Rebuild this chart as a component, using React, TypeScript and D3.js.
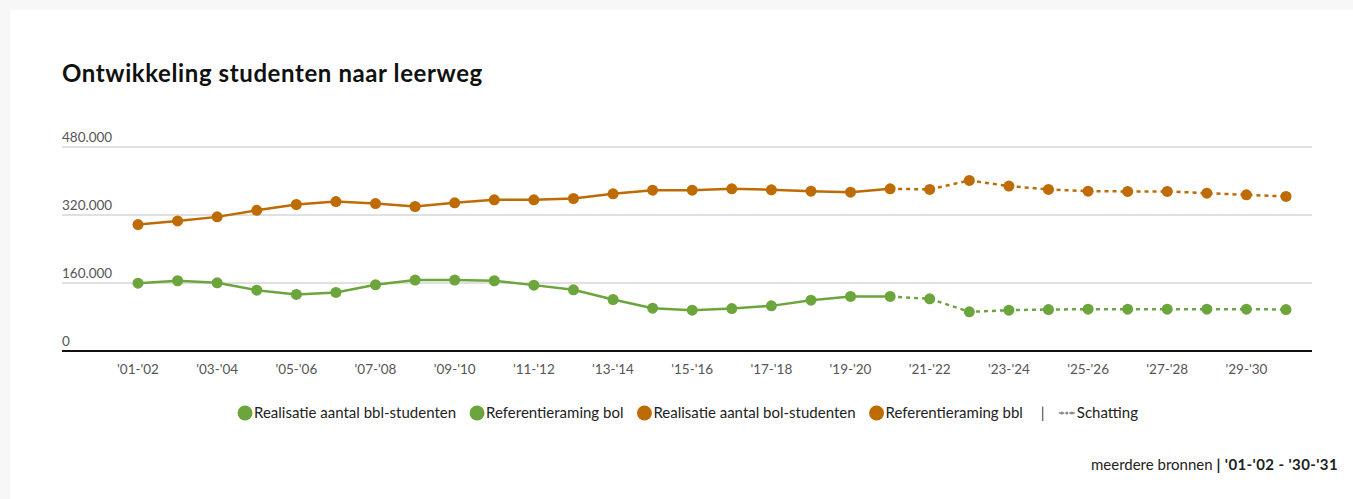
import * as d3 from "d3"
import { useEffect, useRef } from "react"

// school years '01-'02 .. '30-'31
const years = d3.range(1, 31).map(
  (y) => `'${String(y).padStart(2, "0")}-'${String(y + 1).padStart(2, "0")}`
)

// thousands of students
const bolRealisatie = [297.5, 306, 315.6, 331, 344.7, 351.7, 347, 340, 348.6, 355.7, 355.7, 358.8, 369.8, 378.5, 378.5, 381.7, 379.3, 376.1, 373.8, 381.7]
const bolRaming = [381.7, 380.1, 401.3, 388, 380.1, 376.1, 375.4, 375.4, 371.4, 367.5, 363.6]
const bblRealisatie = [159.7, 165.3, 160.5, 143.2, 133, 137.7, 155.8, 166.8, 166.8, 165.3, 155, 144, 121.2, 100.7, 96, 99.9, 106.2, 119.6, 128.3, 128.3]
const bblRaming = [128.3, 122.8, 92.1, 96, 97.6, 98.4, 98.4, 98.4, 98.4, 98.4, 97.6]

const yTicks = [0, 160, 320, 480]

const GREEN = "#6ca53c"
const ORANGE = "#bf6b04"

const legendItems = [
  { label: "Realisatie aantal bbl-studenten", color: GREEN },
  { label: "Referentieraming bol", color: GREEN },
  { label: "Realisatie aantal bol-studenten", color: ORANGE },
  { label: "Referentieraming bbl", color: ORANGE },
]

const FONT = "Lato, 'Noto Sans', sans-serif"

export default function App() {
  const svgRef = useRef<SVGSVGElement>(null)

  useEffect(() => {
    if (!svgRef.current) return
    const svg = d3.select(svgRef.current)
    svg.selectAll("*").remove()

    const W = 1353
    const H = 499

    svg.append("rect").attr("width", W).attr("height", H).attr("fill", "#f7f7f7")
    svg.append("rect").attr("x", 10).attr("y", 10).attr("width", W - 10).attr("height", H - 10).attr("fill", "#fff")

    svg
      .append("text")
      .attr("x", 62)
      .attr("y", 82)
      .attr("font-family", FONT)
      .attr("font-size", 24)
      .attr("font-weight", 700)
      .attr("letter-spacing", 0.6)
      .attr("fill", "#111")
      .text("Ontwikkeling studenten naar leerweg")

    const left = 62
    const right = 1312
    const x = d3.scalePoint<string>().domain(years).range([138, 1286])
    const y = d3.scaleLinear().domain([0, 480]).range([351, 147])

    // grid + y labels
    const grid = svg.append("g")
    yTicks.forEach((t) => {
      if (t > 0) {
        grid
          .append("line")
          .attr("x1", left)
          .attr("x2", right)
          .attr("y1", y(t))
          .attr("y2", y(t))
          .attr("stroke", "#d6d6d6")
          .attr("stroke-width", 1.5)
      }
      grid
        .append("text")
        .attr("x", left)
        .attr("y", y(t) - 5)
        .attr("font-family", FONT)
        .attr("font-size", 13.5)
        .attr("fill", "#555")
        .text(d3.format(",")(t * 1000).replace(/,/g, "."))
    })

    svg
      .append("line")
      .attr("x1", left)
      .attr("x2", right)
      .attr("y1", y(0))
      .attr("y2", y(0))
      .attr("stroke", "#111")
      .attr("stroke-width", 2)

    // x labels
    svg
      .append("g")
      .selectAll("text")
      .data(years.filter((_, i) => i % 2 === 0 && i < 29))
      .join("text")
      .attr("x", (d) => x(d)!)
      .attr("y", 374)
      .attr("text-anchor", "middle")
      .attr("font-family", FONT)
      .attr("font-size", 13.5)
      .attr("fill", "#555")
      .text((d) => d)

    const line = d3
      .line<[string, number]>()
      .x((d) => x(d[0])!)
      .y((d) => y(d[1]))

    const series = [
      { values: bblRealisatie, start: 0, color: GREEN, dashed: false },
      { values: bblRaming, start: 19, color: GREEN, dashed: true },
      { values: bolRealisatie, start: 0, color: ORANGE, dashed: false },
      { values: bolRaming, start: 19, color: ORANGE, dashed: true },
    ]

    series.forEach((s) => {
      const pts = s.values.map((v, i) => [years[s.start + i], v] as [string, number])
      svg
        .append("path")
        .attr("d", line(pts))
        .attr("fill", "none")
        .attr("stroke", s.color)
        .attr("stroke-width", 2.5)
        .attr("stroke-dasharray", s.dashed ? "4,4" : null)
      svg
        .append("g")
        .selectAll("circle")
        .data(s.dashed ? pts.slice(1) : pts)
        .join("circle")
        .attr("cx", (d) => x(d[0])!)
        .attr("cy", (d) => y(d[1]))
        .attr("r", 5.5)
        .attr("fill", s.color)
    })

    // legend
    const lg = svg.append("g").attr("font-family", FONT).attr("font-size", 15).attr("fill", "#222")
    let cx = 0
    const ly = 413
    legendItems.forEach((it) => {
      lg.append("circle").attr("cx", cx + 7).attr("cy", ly).attr("r", 7.5).attr("fill", it.color)
      const t = lg.append("text").attr("x", cx + 16).attr("y", ly + 5).text(it.label)
      cx += 16 + (t.node() as SVGTextElement).getComputedTextLength() + 14
    })
    lg.append("text").attr("x", cx + 4).attr("y", ly + 5).attr("fill", "#444").text("|")
    cx += 22
    lg.append("line")
      .attr("x1", cx)
      .attr("x2", cx + 16)
      .attr("y1", ly)
      .attr("y2", ly)
      .attr("stroke", "#888")
      .attr("stroke-width", 1.5)
      .attr("stroke-dasharray", "2,1.5")
    lg.selectAll("circle.s")
      .data([3, 8, 13])
      .join("circle")
      .attr("class", "s")
      .attr("cx", (d) => cx + d)
      .attr("cy", ly)
      .attr("r", 1.5)
      .attr("fill", "#888")
    const st = lg.append("text").attr("x", cx + 18).attr("y", ly + 5).text("Schatting")
    cx += 18 + (st.node() as SVGTextElement).getComputedTextLength()
    lg.attr("transform", `translate(${688 - cx / 2},0)`)

    // source
    const src = svg
      .append("text")
      .attr("x", 1338)
      .attr("y", 470)
      .attr("text-anchor", "end")
      .attr("font-family", FONT)
      .attr("font-size", 15)
      .attr("fill", "#222")
    src.append("tspan").text("meerdere bronnen ")
    src
      .append("tspan")
      .attr("font-weight", 700)
      .attr("letter-spacing", 0.4)
      .text(`| ${years[0]} - ${years[years.length - 1]}`)
  }, [])

  return (
    <svg
      ref={svgRef}
      width={1353}
      height={499}
      style={{ position: "absolute", left: 0, top: 0, display: "block" }}
    />
  )
}
